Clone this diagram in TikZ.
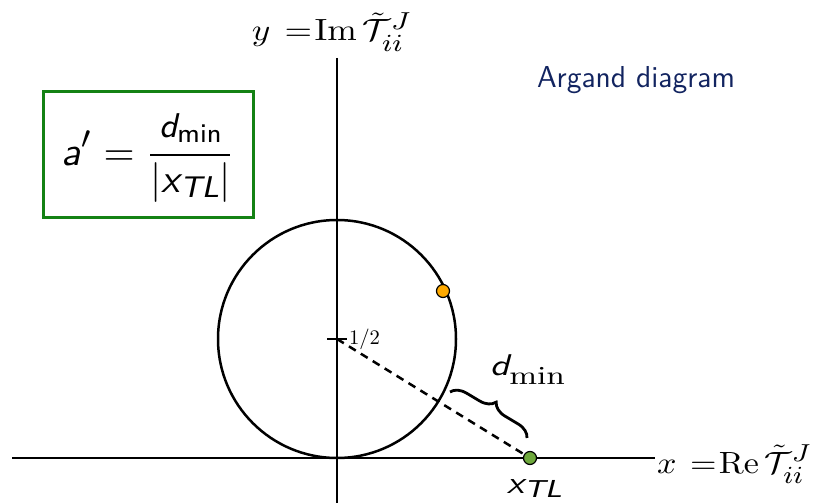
\documentclass[tikz,border=0pt]{standalone}
\usepackage{amsmath}
\usepackage{graphicx}
\usetikzlibrary{decorations.pathreplacing}
\DeclareMathSizes{10}{10}{8}{6}
\definecolor{navy}{RGB}{18,36,96}
\definecolor{boxgreen}{RGB}{20,130,20}
\definecolor{dotgreen}{RGB}{110,168,60}
\definecolor{dotorange}{RGB}{255,170,0}
\newcommand\sfit[1]{\text{\sffamily\itshape #1}}
\begin{document}
\begin{tikzpicture}[x=1pt,y=-1pt,
  axisline/.style={line width=2pt},
  dot/.style={circle,draw=black,line width=1.2pt,minimum size=13pt,inner sep=0pt},
  dashline/.style={line width=2.5pt,dash pattern=on 8pt off 6pt},
  lbl/.style={inner sep=0pt,anchor=base}]
\useasboundingbox (0,0) rectangle (815,503);
\coordinate (ytop) at (337,58);
\coordinate (ybot) at (337,503);
\coordinate (xl) at (12,458);
\coordinate (xr) at (655,458);
\coordinate (C) at (337,339);
\coordinate (tl) at (327,339);
\coordinate (tr) at (347,339);
\coordinate (b1) at (450,392);
\coordinate (b2) at (527,438);
\draw[axisline] (ytop) -- (ybot);
\draw[axisline] (xl) -- (xr);
\draw[line width=2.5pt] (C) circle[radius=119];
\draw[axisline] (tl) -- (tr);
\node[dot,fill=dotorange] (P) at (443,291) {};
\draw[dashline] (C) -- (530,458) coordinate (Xc);
\node[dot,fill=dotgreen] (X) at (Xc) {};
\draw[line width=2.8pt,decorate,decoration={brace,amplitude=15pt}] (b1) -- (b2);
\node[lbl] (half) at (364.5,344)
  {\resizebox{31pt}{!}{$1/2$}};
\node[lbl] (dmin) at (527.5,375)
  {\resizebox{75pt}{3\height}{\sffamily\itshape d\raisebox{-3.3pt}{\rmfamily\upshape\fontsize{8.7}{10}\selectfont min}}};
\node[lbl] (xtl) at (534.5,493)
  {\resizebox{55pt}{3.15\height}{\sffamily\itshape x\raisebox{-1.3pt}{\fontsize{7.8}{9}\selectfont TL}}};
\node[lbl] (xlab) at (734.5,473)
  {\resizebox{155pt}{3.07\height}{$x\hspace{4pt}{=}\hspace{0.7pt}\mathrm{Re}\,\tilde{\mathcal{T}}^{J}_{ii}$}};
\node[lbl] (ylab) at (332,41)
  {\resizebox{160pt}{3.07\height}{$y\hspace{4pt}{=}\hspace{0.7pt}\mathrm{Im}\,\tilde{\mathcal{T}}^{J}_{ii}$}};
\node[lbl,text=navy] (title) at (636,88)
  {\resizebox{198pt}{3.03\height}{\sffamily Argand diagram}};
\node[draw=boxgreen,line width=3pt,minimum width=210pt,minimum height=125pt,inner sep=0pt] (box) at (148,154.5) {};
\node[lbl] (frac) at (148.5,165)
  {\resizebox{173pt}{!}{$\displaystyle \sfit{a}' = \frac{\text{\fontsize{8.6}{10}\selectfont\sffamily\itshape d\raisebox{-1.2pt}{\upshape\fontsize{6.7}{8}\selectfont min}}}{\text{\fontsize{10}{12}\selectfont\sffamily{\upshape|}\itshape x\raisebox{-1.2pt}{\fontsize{7.5}{9}\selectfont TL}{\upshape|}}}$}};
\end{tikzpicture}
\end{document}
